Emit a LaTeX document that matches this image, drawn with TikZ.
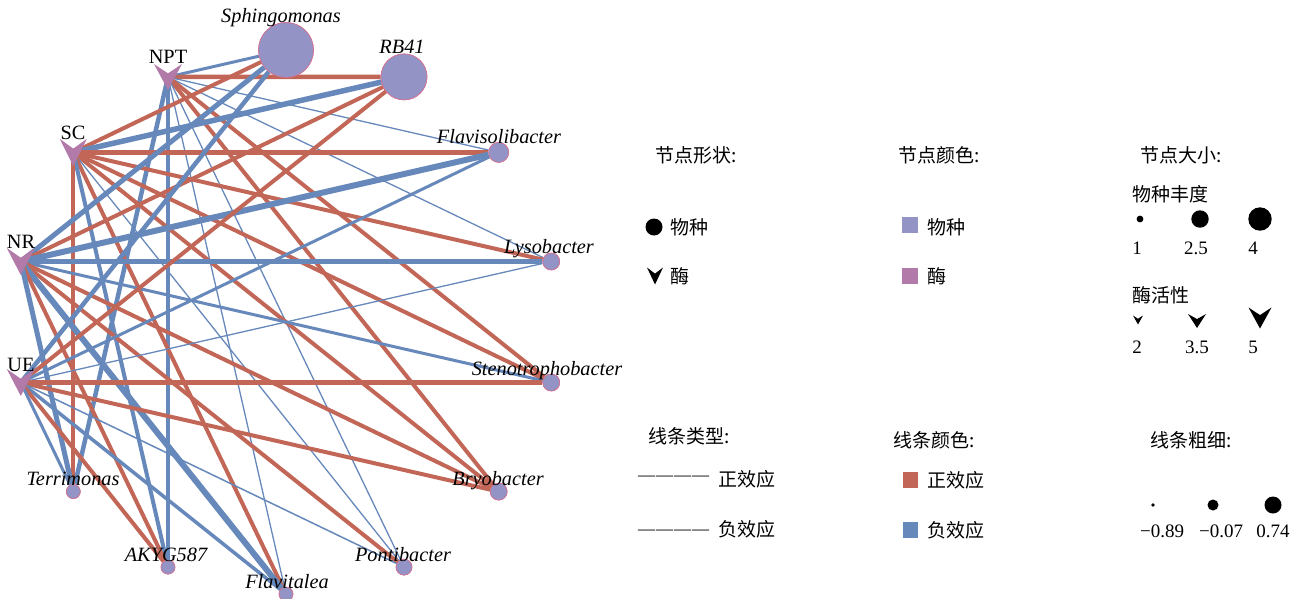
\documentclass[tikz,border=0pt]{standalone}
\usepackage{fontspec}
\setmainfont{Liberation Serif}
\newfontfamily\cjk{Noto Sans CJK SC}
\definecolor{redc}{HTML}{C26757}
\definecolor{bluec}{HTML}{6688BA}
\definecolor{spfill}{HTML}{9393C6}
\definecolor{enzfill}{HTML}{B27AA8}
\definecolor{spborder}{HTML}{D9708F}
\newcommand\mychev[5]{%
  \fill[#5] ({#1-#3/2},{#2-#4/2}) -- (#1,{#2-#4/2+0.36*#4}) -- ({#1+#3/2},{#2-#4/2}) -- (#1,{#2+#4/2}) -- cycle;}
\newcommand\labfont{\fontsize{20.3}{23}\selectfont}
\newcommand\legfont{\fontsize{19}{22}\selectfont}
\newcommand\dashrow{—\kern1pt—\kern1pt—\kern1pt—}
\begin{document}
\begin{tikzpicture}[x=1pt,y=-1pt,
  spnode/.style={circle,fill=spfill,draw=spborder,line width=0.6pt,inner sep=0pt,minimum size=#1},
  poslink/.style={draw=redc,line width=#1pt},
  neglink/.style={draw=bluec,line width=#1pt},
  splab/.style={anchor=base,inner sep=0pt,font=\labfont\itshape},
  enzlab/.style={anchor=base,inner sep=0pt,font=\labfont},
  legtxt/.style={anchor=base west,inner sep=0pt,font=\legfont\cjk},
  legnum/.style={anchor=base,inner sep=0pt,font=\legfont},
  legdash/.style={anchor=base west,inner sep=0pt,font=\fontsize{17}{20}\selectfont}]
\useasboundingbox (0,0) rectangle (1305,598);
% enzyme coordinates
\coordinate (NPT) at (168,77);
\coordinate (SC) at (73.3,152.4);
\coordinate (NR) at (20.8,261.5);
\coordinate (UE) at (20.8,382.5);
% species nodes
\node[spnode=55pt] (Sph) at (286,50) {};
\node[spnode=46pt] (RB) at (404,76.9) {};
\node[spnode=20pt] (Fvs) at (498.7,152.4) {};
\node[spnode=17pt] (Lys) at (551.2,261.5) {};
\node[spnode=17pt] (Ste) at (551.2,382.5) {};
\node[spnode=17pt] (Bry) at (498.7,491.6) {};
\node[spnode=16pt] (Pon) at (404,567.1) {};
\node[spnode=14pt] (Fvt) at (286,594) {};
\node[spnode=14pt] (AKY) at (168,567.1) {};
\node[spnode=14pt] (Ter) at (73.3,491.6) {};
% edges
% NPT
\draw[neglink=3] (NPT) -- (Sph);
\draw[poslink=4.5] (NPT) -- (RB);
\draw[neglink=1.3] (NPT) -- (Fvs);
\draw[neglink=1.3] (NPT) -- (Lys);
\draw[poslink=4] (NPT) -- (Ste);
\draw[poslink=4] (NPT) -- (Bry);
\draw[neglink=1.3] (NPT) -- (Pon);
\draw[neglink=1.3] (NPT) -- (Fvt);
\draw[neglink=4.5] (NPT) -- (AKY);
\draw[neglink=4.5] (NPT) -- (Ter);
% SC
\draw[poslink=4] (SC) -- (Sph);
\draw[neglink=5.5] (SC) -- (RB);
\draw[poslink=4.5] (SC) -- (Fvs);
\draw[poslink=4] (SC) -- (Lys);
\draw[poslink=4] (SC) -- (Ste);
\draw[poslink=4] (SC) -- (Bry);
\draw[neglink=1.3] (SC) -- (Pon);
\draw[poslink=4] (SC) -- (Fvt);
\draw[neglink=4] (SC) -- (AKY);
\draw[poslink=4] (SC) -- (Ter);
% NR
\draw[neglink=5] (NR) -- (Sph);
\draw[poslink=4] (NR) -- (RB);
\draw[neglink=6] (NR) -- (Fvs);
\draw[neglink=5.5] (NR) -- (Lys);
\draw[neglink=3] (NR) -- (Ste);
\draw[poslink=4] (NR) -- (Bry);
\draw[poslink=4] (NR) -- (Pon);
\draw[neglink=6] (NR) -- (Fvt);
\draw[poslink=4] (NR) -- (AKY);
\draw[neglink=5] (NR) -- (Ter);
% UE
\draw[neglink=4.5] (UE) -- (Sph);
\draw[poslink=4] (UE) -- (RB);
\draw[neglink=3] (UE) -- (Fvs);
\draw[neglink=1.3] (UE) -- (Lys);
\draw[poslink=4.5] (UE) -- (Ste);
\draw[poslink=4] (UE) -- (Bry);
\draw[neglink=1.5] (UE) -- (Pon);
\draw[neglink=3.5] (UE) -- (Fvt);
\draw[poslink=4] (UE) -- (AKY);
\draw[neglink=3] (UE) -- (Ter);
% redraw species on top
\node[spnode=55pt] at (Sph) {};
\node[spnode=46pt] at (RB) {};
\node[spnode=20pt] at (Fvs) {};
\node[spnode=17pt] at (Lys) {};
\node[spnode=17pt] at (Ste) {};
\node[spnode=17pt] at (Bry) {};
\node[spnode=16pt] at (Pon) {};
\node[spnode=14pt] at (Fvt) {};
\node[spnode=14pt] at (AKY) {};
\node[spnode=14pt] at (Ter) {};
% enzymes
\mychev{168}{77}{28}{26}{enzfill}
\mychev{73.3}{152.4}{27}{27}{enzfill}
\mychev{20.8}{261.5}{28}{27}{enzfill}
\mychev{20.8}{382.5}{28}{27}{enzfill}
% labels
\node[splab] (lSph) at (281,22) {Sphingomonas};
\node[splab] (lRB) at (402,53) {RB41};
\node[splab] (lFvs) at (499,143) {Flavisolibacter};
\node[splab] (lLys) at (549,253) {Lysobacter};
\node[splab] (lSte) at (547,375) {Stenotrophobacter};
\node[splab] (lBry) at (498,485) {Bryobacter};
\node[splab] (lPon) at (403,561) {Pontibacter};
\node[splab] (lFvt) at (287,588) {Flavitalea};
\node[splab] (lAKY) at (166,561) {AKYG587};
\node[splab] (lTer) at (73,485) {Terrimonas};
\node[enzlab] (lNPT) at (168,63) {NPT};
\node[enzlab] (lSC) at (73,139) {SC};
\node[enzlab] (lNR) at (21,248) {NR};
\node[enzlab] (lUE) at (21,371) {UE};
% legend: node shape
\node[legtxt] (h1) at (655,162) {节点形状:};
\fill[black] (654,227) circle (8.5);
\node[legtxt] (t1) at (670,234) {物种};
\mychev{655}{276}{16}{17}{black}
\node[legtxt] (t2) at (670,283) {酶};
% legend: node colour
\node[legtxt] (h2) at (898,162) {节点颜色:};
\fill[spfill] (902,217) rectangle (918,233);
\node[legtxt] (t3) at (927,234) {物种};
\fill[enzfill] (902,268) rectangle (918,284);
\node[legtxt] (t4) at (927,283) {酶};
% legend: node size
\node[legtxt] (h3) at (1140,162) {节点大小:};
\node[legtxt] (t5) at (1132,201) {物种丰度};
\fill[black] (1140,219) circle (3.4);
\fill[black] (1200,219) circle (8.7);
\fill[black] (1260,219) circle (11.7);
\node[legnum] (n1) at (1137,254) {1};
\node[legnum] (n2) at (1196,254) {2.5};
\node[legnum] (n3) at (1253,254) {4};
\node[legtxt] (t6) at (1132,302) {酶活性};
\mychev{1138}{320}{10}{9}{black}
\mychev{1197}{321}{18}{14}{black}
\mychev{1260}{318}{23}{21}{black}
\node[legnum] (n4) at (1137,353) {2};
\node[legnum] (n5) at (1197,353) {3.5};
\node[legnum] (n6) at (1253,353) {5};
% legend: line type
\node[legtxt] (h4) at (648,443) {线条类型:};
\node[legdash] (d1) at (638,480.5) {\dashrow};
\node[legtxt] (t7) at (718,486) {正效应};
\node[legdash] (d2) at (638,534.5) {\dashrow};
\node[legtxt] (t8) at (718,536) {负效应};
% legend: line colour
\node[legtxt] (h5) at (893,447) {线条颜色:};
\fill[redc] (903,472) rectangle (918,488);
\node[legtxt] (t9) at (927,487) {正效应};
\fill[bluec] (903,522) rectangle (918,538);
\node[legtxt] (t10) at (927,537) {负效应};
% legend: line width
\node[legtxt] (h6) at (1150,447) {线条粗细:};
\fill[black] (1153,505) circle (1.8);
\fill[black] (1213,505) circle (5.5);
\fill[black] (1273,505) circle (8.5);
\node[legnum] (n7) at (1162,537) {−0.89};
\node[legnum] (n8) at (1221,537) {−0.07};
\node[legnum] (n9) at (1273,537) {0.74};
\end{tikzpicture}
\end{document}
